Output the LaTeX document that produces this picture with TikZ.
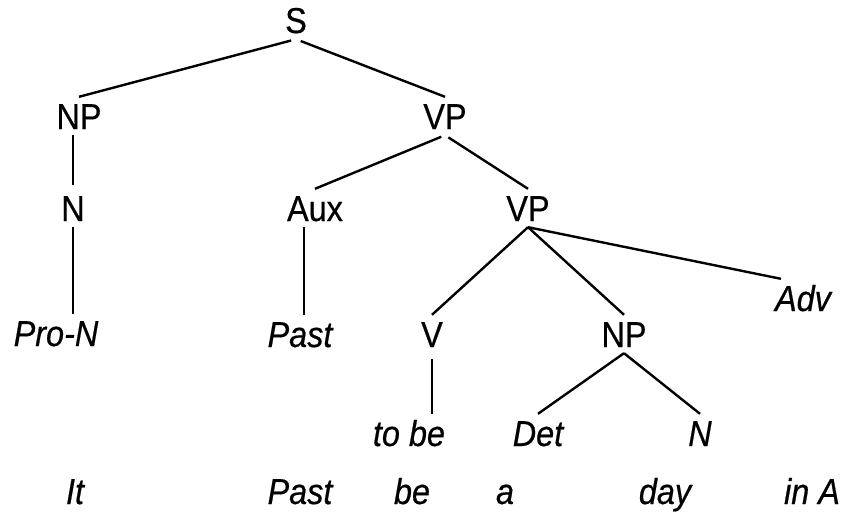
\documentclass[tikz,border=0pt]{standalone}
\usepackage{fontspec}
\setmainfont[FakeStretch=0.9,FakeBold=0.5]{Liberation Sans}
\usetikzlibrary{positioning}

\begin{document}
\begin{tikzpicture}[x=1pt,y=-1pt,
                cat/.style={inner sep=6pt,text height=26pt,text depth=0pt,font=\fontsize{36}{40}\selectfont},
                word/.style={cat,font=\fontsize{36}{40}\selectfont\itshape},
                branch/.style={line width=2.4pt}]
                \useasboundingbox (0,0) rectangle (846,512);
                \node[cat] (s) at (296,20) {S};
                \node[cat] (np) at (79,116) {NP};
                \node[cat] (vp) at (445,116) {VP};
                \node[cat] (n) at (73,208) {N};
                \node[cat] (aux) at (315,208) {Aux};
                \node[cat] (vpb) at (528,208) {VP};
                \node[word] (pron) at (56,333) {Pro-N};
                \node[word] (past) at (300,334) {Past};
                \node[cat] (v) at (432,334) {V};
                \node[cat] (npb) at (624,334) {NP};
                \node[word] (adv) at (803,298) {Adv};
                \node[word] (tobe) at (409,433) {to be};
                \node[word] (det) at (538,433) {Det};
                \node[word] (nb) at (700,433) {N};
                % terminal string
                \node[word] (it) at (75,491) {It};
                \node[word] (pastb) at (300,491) {Past};
                \node[word] (be) at (412,491) {be};
                \node[word] (a) at (505,491) {a};
                \node[word] (day) at (665,491) {day};
                \node[word] (ina) at (812,491) {in A};
                % branches
                \draw[branch,shorten <=5pt] (s.south) -- (np.north);
                \draw[branch,shorten <=5pt] (s.south) -- (vp.north);
                \draw[branch,shorten >=4pt] (np.south -| n) -- (n.north);
                \draw[branch,shorten <=4pt] (vp.south) -- (aux.north);
                \draw[branch,shorten <=4pt] (vp.south) -- (vpb.north);
                \draw[branch] (n.south) -- (n.south |- pron.north);
                \draw[branch] (aux.south -| past) ++(4,0) -- ([xshift=4pt]past.north);
                \draw[branch] (vpb.south) -- (v.north);
                \draw[branch] (vpb.south) -- (npb.north);
                \draw[branch] (vpb.south) -- ([xshift=12pt]adv.north west);
                \draw[branch,shorten <=6pt] (v.south) -- (v.south |- tobe.north);
                \draw[branch] (npb.south) -- (det.north);
                \draw[branch] (npb.south) -- (nb.north);
            \end{tikzpicture}
\end{document}
